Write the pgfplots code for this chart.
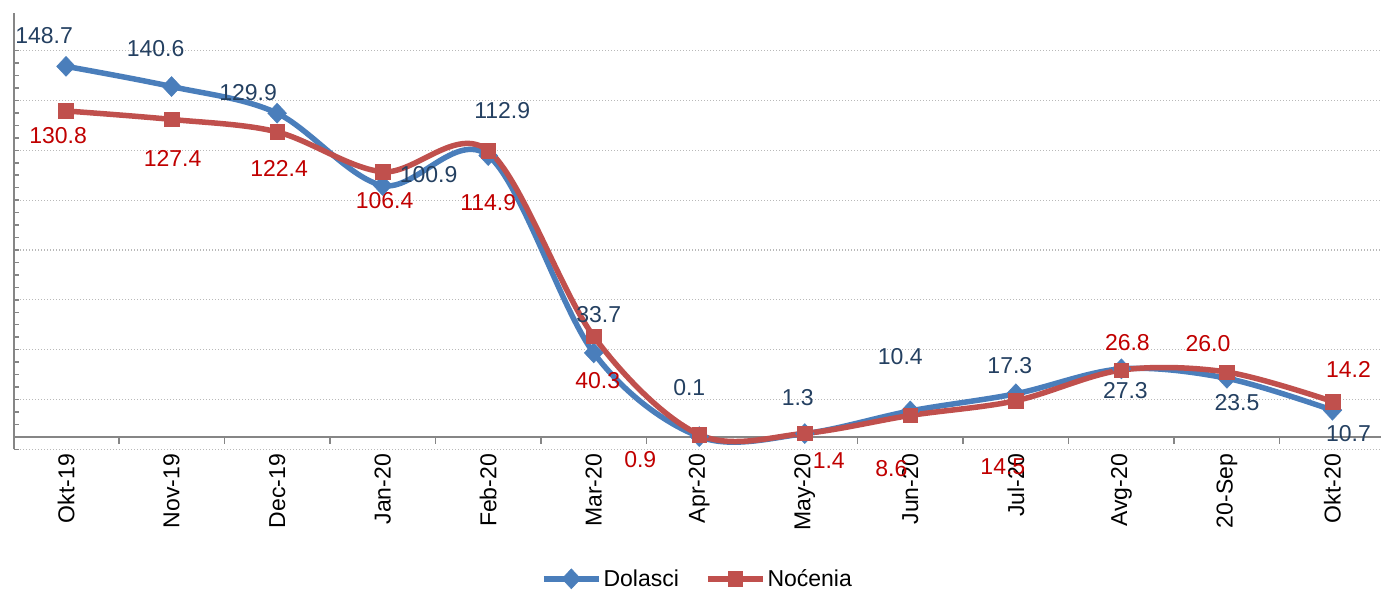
\documentclass[border=0pt]{standalone}
\usepackage{fontspec}
\setmainfont{Liberation Sans}
\usepackage{pgfplots}
\usepackage{pgfplotstable}
\pgfplotsset{compat=1.18}
\definecolor{dblue}{RGB}{74,126,187}
\definecolor{dred}{RGB}{192,80,77}
\definecolor{lblue}{RGB}{36,64,97}
\definecolor{lred}{RGB}{192,0,0}
\definecolor{axgray}{RGB}{134,134,134}
\definecolor{gridgray}{RGB}{185,185,185}

\pgfplotstableread{
x y
0 148.7
1 140.6
2 129.9
3 100.9
4 112.9
5 33.7
6 0.1
7 1.3
8 10.4
9 17.3
10 27.3
11 23.5
12 10.7
}\dolasci
\pgfplotstableread{
x y
0 130.8
1 127.4
2 122.4
3 106.4
4 114.9
5 40.3
6 0.9
7 1.4
8 8.6
9 14.5
10 26.8
11 26.0
12 14.2
}\nocenia

\begin{document}
\begin{tikzpicture}[font=\fontsize{23}{27}\selectfont]
\begin{axis}[
  width=1367pt, height=436pt, scale only axis,
  xmin=-0.493, xmax=12.46, ymin=-5, ymax=170,
  axis x line*=middle, axis y line*=left,
  axis line style={axgray, line width=1.5pt},
  xtick={0,...,12},
  xticklabels={Okt-19,Nov-19,Dec-19,Jan-20,Feb-20,Mar-20,Apr-20,May-20,Jun-20,Jul-20,Avg-20,20-Sep,Okt-20},
  xticklabel style={rotate=90, anchor=east, inner sep=0pt, font=\fontsize{23}{27}\selectfont},
  xticklabel shift=17pt,
  major x tick style={draw=none},
  ytick={-5,15,...,155}, yticklabels={}, minor y tick num=3,
  tick align=inside, major tick length=5pt, minor tick length=5pt,
  y tick style={axgray, line width=1.5pt},
  ymajorgrids,
  major grid style={gridgray, line width=1.3pt, dash pattern=on 1.3pt off 1.7pt},
  clip=false,
  legend style={at={(0.5,-0.297)}, anchor=center, draw=none, legend columns=2,
    font=\fontsize{23}{27}\selectfont,
    /tikz/every even column/.append style={column sep=24pt},
    nodes={inner sep=2pt}},
  legend image code/.code={\draw[mark repeat=2,mark phase=2,#1] plot coordinates {(0pt,0pt) (27.5pt,0pt) (55pt,0pt)};},
]
\coordinate (tl) at (rel axis cs:0,1);
\coordinate (br) at (rel axis cs:1,0);
\pgfplotsinvokeforeach{0.5,1.5,...,11.5}{\draw[axgray, line width=1.5pt] (axis cs:#1,0) -- ++(0pt,-7pt);}

\addplot[dblue, line width=5.5pt, smooth, tension=0.55, mark=diamond*, mark size=10pt,
  mark options={solid, fill=dblue, draw=dblue, line width=0.5pt, xscale=1.25}] table[x=x,y=y] {\dolasci};
\addlegendentry{Dolasci}
\addplot[dred, line width=5.5pt, smooth, tension=0.55, mark=square*, mark size=7.3pt,
  mark options={solid, fill=dred, draw=dred, line width=0.5pt}] table[x=x,y=y] {\nocenia};
\addlegendentry{Noćenia}

% Dolasci labels
\node[lblue, xshift=-22pt, yshift=31pt] at (axis cs:0,148.7) {148.7};
\node[lblue, xshift=-16pt, yshift=38pt] at (axis cs:1,140.6) {140.6};
\node[lblue, xshift=-29pt, yshift=21pt] at (axis cs:2,129.9) {129.9};
\node[lblue, xshift=46pt, yshift=11pt] at (axis cs:3,100.9) {100.9};
\node[lblue, xshift=14pt, yshift=45pt] at (axis cs:4,112.9) {112.9};
\node[lblue, xshift=5pt, yshift=38pt] at (axis cs:5,33.7) {33.7};
\node[lblue, xshift=-10pt, yshift=49pt] at (axis cs:6,0.1) {0.1};
\node[lblue, xshift=-7pt, yshift=36pt] at (axis cs:7,1.3) {1.3};
\node[lblue, xshift=-10pt, yshift=54pt] at (axis cs:8,10.4) {10.4};
\node[lblue, xshift=-6pt, yshift=28pt] at (axis cs:9,17.3) {17.3};
\node[lblue, xshift=4pt, yshift=-22pt] at (axis cs:10,27.3) {27.3};
\node[lblue, xshift=10pt, yshift=-24pt] at (axis cs:11,23.5) {23.5};
\node[lblue, xshift=16pt, yshift=-23pt] at (axis cs:12,10.7) {10.7};
% Nocenia labels
\node[lred, xshift=-8pt, yshift=-25pt] at (axis cs:0,130.8) {130.8};
\node[lred, xshift=1pt, yshift=-39pt] at (axis cs:1,127.4) {127.4};
\node[lred, xshift=2pt, yshift=-37pt] at (axis cs:2,122.4) {122.4};
\node[lred, xshift=2pt, yshift=-29pt] at (axis cs:3,106.4) {106.4};
\node[lred, xshift=0pt, yshift=-52pt] at (axis cs:4,114.9) {114.9};
\node[lred, xshift=4pt, yshift=-44pt] at (axis cs:5,40.3) {40.3};
\node[lred, xshift=-59pt, yshift=-25pt] at (axis cs:6,0.9) {0.9};
\node[lred, xshift=24pt, yshift=-27pt] at (axis cs:7,1.4) {1.4};
\node[lred, xshift=-19pt, yshift=-53pt] at (axis cs:8,8.6) {8.6};
\node[lred, xshift=-13pt, yshift=-66pt] at (axis cs:9,14.5) {14.5};
\node[lred, xshift=6pt, yshift=27pt] at (axis cs:10,26.8) {26.8};
\node[lred, xshift=-19pt, yshift=28pt] at (axis cs:11,26.0) {26.0};
\node[lred, xshift=16pt, yshift=32pt] at (axis cs:12,14.2) {14.2};
\end{axis}
\pgfresetboundingbox
\path ([shift={(-14pt,13.3pt)}]tl) rectangle ([shift={(0pt,-139.7pt)}]br);
\end{tikzpicture}
\end{document}
